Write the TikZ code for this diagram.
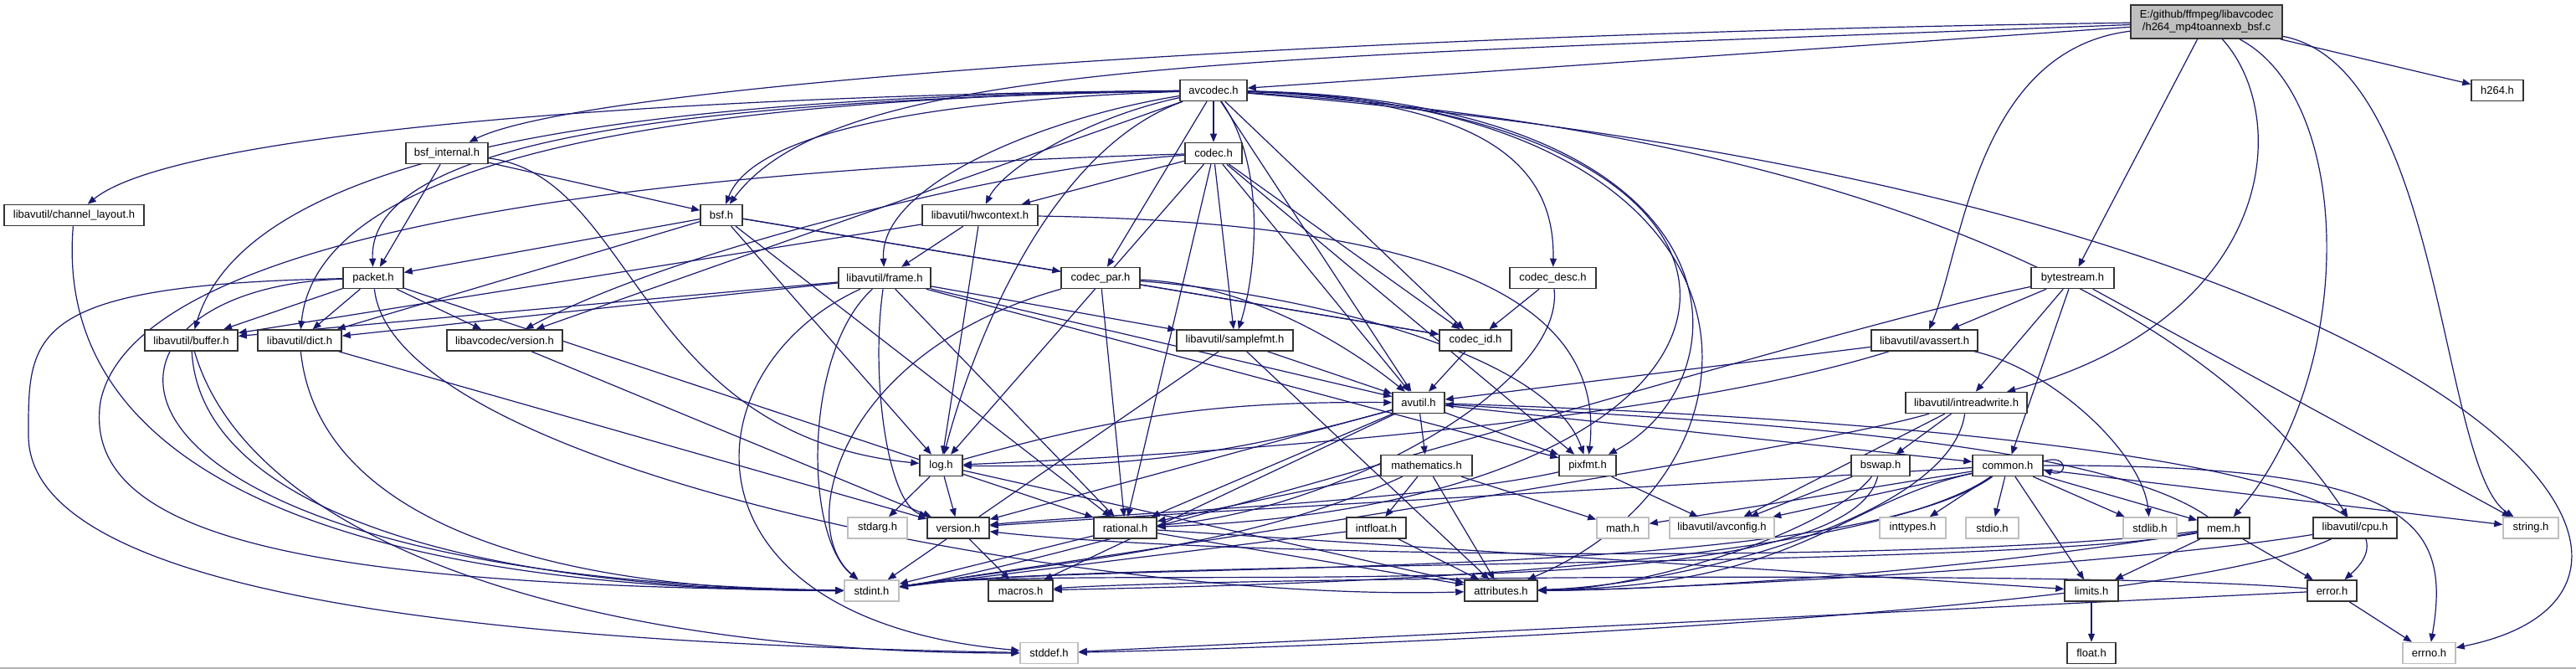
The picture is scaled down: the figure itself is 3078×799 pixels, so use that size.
\documentclass[tikz,border=0pt]{standalone}
\usepackage{fontspec}
\setmainfont{Liberation Sans}
\usetikzlibrary{arrows.meta, backgrounds}
\definecolor{navy}{RGB}{25,25,112}

\begin{document}
\begin{tikzpicture}[x=1pt, y=-1pt, >={Triangle[length=10pt, width=8pt]},
		hdr/.style={rectangle, draw=black!80, fill=white, line width=1.5pt, minimum height=25pt, inner sep=0pt, font=\fontsize{13}{15}\selectfont},
		sys/.style={hdr, draw=black!25},
		src/.style={hdr, fill=black!25, minimum height=40pt, align=center},
		dep/.style={draw=navy, line width=1.2pt}]

	\useasboundingbox (0,0) rectangle (3078,799);

	\node[src, minimum width=181pt] (main) at (2636.5,26) {E:/github/ffmpeg/libavcodec\\/h264\_mp4toannexb\_bsf.c};
	\node[hdr, minimum width=80pt] (avcodec) at (1450,108) {avcodec.h};
	\node[hdr, minimum width=62pt] (h264) at (2984,108) {h264.h};
	\node[hdr, minimum width=98pt] (bsfint) at (534,183) {bsf\_internal.h};
	\node[hdr, minimum width=68pt] (codec) at (1450,183) {codec.h};
	\node[hdr, minimum width=167pt] (chlayout) at (88.5,257) {libavutil/channel\_layout.h};
	\node[hdr, minimum width=50pt] (bsf) at (862,257) {bsf.h};
	\node[hdr, minimum width=138pt] (hwcontext) at (1171,257) {libavutil/hwcontext.h};
	\node[hdr, minimum width=72pt] (packet) at (446,332) {packet.h};
	\node[hdr, minimum width=110pt] (frame) at (1057,332) {libavutil/frame.h};
	\node[hdr, minimum width=94pt] (codecpar) at (1315,332) {codec\_par.h};
	\node[hdr, minimum width=103pt] (codecdesc) at (1855.5,332) {codec\_desc.h};
	\node[hdr, minimum width=99pt] (bytestream) at (2476.5,332) {bytestream.h};
	\node[hdr, minimum width=111pt] (buffer) at (228.5,406.5) {libavutil/buffer.h};
	\node[hdr, minimum width=100pt] (dict) at (358,406.5) {libavutil/dict.h};
	\node[hdr, minimum width=138pt] (lcversion) at (603,406.5) {libavcodec/version.h};
	\node[hdr, minimum width=139pt] (samplefmt) at (1475.5,406.5) {libavutil/samplefmt.h};
	\node[hdr, minimum width=86pt] (codecid) at (1763,406.5) {codec\_id.h};
	\node[hdr, minimum width=127pt] (avassert) at (2299.5,406.5) {libavutil/avassert.h};
	\node[hdr, minimum width=62pt] (avutil) at (1695,481) {avutil.h};
	\node[hdr, minimum width=145pt] (intreadwrite) at (2349.5,481) {libavutil/intreadwrite.h};
	\node[hdr, minimum width=51pt] (log) at (1124.5,556) {log.h};
	\node[hdr, minimum width=109pt] (mathematics) at (1704.5,556) {mathematics.h};
	\node[hdr, minimum width=68pt] (pixfmt) at (1897,556) {pixfmt.h};
	\node[hdr, minimum width=70pt] (bswap) at (2247,556) {bswap.h};
	\node[hdr, minimum width=84pt] (common) at (2399,556) {common.h};
	\node[sys, minimum width=71pt] (stdarg) at (1048.5,630.5) {stdarg.h};
	\node[hdr, minimum width=74pt] (luversion) at (1145,630.5) {version.h};
	\node[hdr, minimum width=75pt] (rational) at (1344.5,630.5) {rational.h};
	\node[hdr, minimum width=71pt] (intfloat) at (1644.5,630.5) {intfloat.h};
	\node[sys, minimum width=62pt] (math) at (1939,630.5) {math.h};
	\node[sys, minimum width=125pt] (avconfig) at (2057.5,630.5) {libavutil/avconfig.h};
	\node[sys, minimum width=79pt] (inttypes) at (2285.5,630.5) {inttypes.h};
	\node[sys, minimum width=63pt] (stdio) at (2380.5,630.5) {stdio.h};
	\node[sys, minimum width=64pt] (stdlib) at (2569,630.5) {stdlib.h};
	\node[hdr, minimum width=62pt] (mem) at (2657,630.5) {mem.h};
	\node[hdr, minimum width=100pt] (cpu) at (2814,630.5) {libavutil/cpu.h};
	\node[sys, minimum width=66pt] (string) at (3024,630.5) {string.h};
	\node[sys, minimum width=65pt] (stdint) at (1041.5,705.5) {stdint.h};
	\node[hdr, minimum width=77pt] (macros) at (1219.5,705.5) {macros.h};
	\node[hdr, minimum width=87pt] (attributes) at (1793.5,705.5) {attributes.h};
	\node[hdr, minimum width=64pt] (limits) at (2499,705.5) {limits.h};
	\node[hdr, minimum width=59pt] (error) at (2786.5,705.5) {error.h};
	\node[sys, minimum width=69pt] (stddef) at (1253.5,780) {stddef.h};
	\node[hdr, minimum width=58pt] (float) at (2499,780) {float.h};
	\node[sys, minimum width=63pt] (errno) at (2902.5,780) {errno.h};

	\draw[black!30, line width=1.5pt] (0,798) -- (3078,798);

	\begin{scope}[on background layer]
		\fill[white] (0,0) rectangle (3078,799);

		\draw[->, dep] (main) -- (avcodec);
		\draw[->, dep] (main) .. controls (1600,40) and (700,100) .. (bsfint);
		\draw[->, dep] (main) .. controls (1500,70) and (1000,70) .. (bsf);
		\draw[->, dep] (main) -- (bytestream);
		\draw[->, dep] (main) -- (h264);
		\draw[->, dep] (main) .. controls (2360,60) and (2345,300) .. (avassert);
		\draw[->, dep] (main) .. controls (2740,140) and (2720,380) .. (intreadwrite);
		\draw[->, dep] (main) .. controls (2815,120) and (2815,450) .. (mem);
		\draw[->, dep] (main) .. controls (2920,80) and (2915,560) .. (string);

		\draw[->, dep] (avcodec) -- (codec);
		\draw[->, dep] (avcodec) .. controls (900,112) and (220,150) .. (chlayout);
		\draw[->, dep] (avcodec) .. controls (800,115) and (300,170) .. (buffer);
		\draw[->, dep] (avcodec) .. controls (800,118) and (380,190) .. (dict);
		\draw[->, dep] (avcodec) .. controls (800,120) and (440,170) .. (packet);
		\draw[->, dep] (avcodec) .. controls (1100,120) and (900,160) .. (bsf);
		\draw[->, dep] (avcodec) .. controls (1300,140) and (1200,200) .. (hwcontext);
		\draw[->, dep] (avcodec) .. controls (1250,140) and (1050,220) .. (frame);
		\draw[->, dep] (avcodec) -- (codecpar);
		\draw[->, dep] (avcodec) .. controls (1515,200) and (1500,330) .. (samplefmt);
		\draw[->, dep] (avcodec) .. controls (1250,180) and (1160,420) .. (log);
		\draw[->, dep] (avcodec) -- (avutil);
		\draw[->, dep] (avcodec) -- (codecid);
		\draw[->, dep] (avcodec) -- (lcversion);
		\draw[->, dep] (avcodec) .. controls (1780,120) and (1858,200) .. (codecdesc);
		\draw[->, dep] (avcodec) .. controls (2090,120) and (2095,450) .. (pixfmt);
		\draw[->, dep] (avcodec) .. controls (2145,125) and (2140,560) .. (attributes);
		\draw[->, dep] (avcodec) .. controls (2200,130) and (2190,600) .. (rational);
		\draw[->, dep] (avcodec) .. controls (2250,160) and (2650,380) .. (cpu);
		\draw[->, dep] (avcodec) .. controls (2950,230) and (3300,700) .. (errno);

		\draw[->, dep] (bsfint) -- (bsf);
		\draw[->, dep] (bsfint) -- (packet);
		\draw[->, dep] (bsfint) .. controls (760,210) and (760,520) .. (log);

		\draw[->, dep] (bsf) -- (packet);
		\draw[->, dep] (bsf) -- (dict);
		\draw[->, dep] (bsf) -- (log);
		\draw[->, dep] (bsf) -- (rational);
		\draw[->, dep] (bsf) -- (codecpar);
		\draw[->, dep] (bsf) -- (codecid);

		\draw[->, dep] (codec) .. controls (500,210) and (150,330) .. (120,480) .. controls (95,650) and (400,700) .. (stdint);
		\draw[->, dep] (codec) -- (hwcontext);
		\draw[->, dep] (codec) -- (log);
		\draw[->, dep] (codec) -- (rational);
		\draw[->, dep] (codec) -- (samplefmt);
		\draw[->, dep] (codec) -- (avutil);
		\draw[->, dep] (codec) -- (pixfmt);
		\draw[->, dep] (codec) -- (codecid);
		\draw[->, dep] (codec) .. controls (1200,200) and (800,300) .. (lcversion);

		\draw[->, dep] (hwcontext) -- (buffer);
		\draw[->, dep] (hwcontext) -- (frame);
		\draw[->, dep] (hwcontext) -- (log);
		\draw[->, dep] (hwcontext) .. controls (1700,265) and (1920,350) .. (pixfmt);

		\draw[->, dep] (packet) -- (buffer);
		\draw[->, dep] (packet) -- (dict);
		\draw[->, dep] (packet) -- (lcversion);
		\draw[->, dep] (packet) -- (rational);
		\draw[->, dep] (packet) .. controls (60,345) and (60,690) .. (stdint);
		\draw[->, dep] (packet) .. controls (30,340) and (34,400) .. (34,520) .. controls (34,730) and (700,770) .. (stddef);
		\draw[->, dep] (packet) .. controls (470,560) and (1300,720) .. (attributes);

		\draw[->, dep] (frame) -- (buffer);
		\draw[->, dep] (frame) -- (dict);
		\draw[->, dep] (frame) -- (samplefmt);
		\draw[->, dep] (frame) -- (avutil);
		\draw[->, dep] (frame) -- (pixfmt);
		\draw[->, dep] (frame) -- (rational);
		\draw[->, dep] (frame) .. controls (1040,450) and (1060,600) .. (luversion);
		\draw[->, dep] (frame) .. controls (960,420) and (960,640) .. (stdint);
		\draw[->, dep] (frame) .. controls (820,440) and (800,740) .. (stddef);

		\draw[->, dep] (codecpar) .. controls (1500,340) and (1620,420) .. (avutil);
		\draw[->, dep] (codecpar) -- (rational);
		\draw[->, dep] (codecpar) .. controls (1550,350) and (1850,420) .. (pixfmt);
		\draw[->, dep] (codecpar) -- (codecid);
		\draw[->, dep] (codecpar) .. controls (1000,420) and (950,630) .. (stdint);

		\draw[->, dep] (codecdesc) -- (codecid);
		\draw[->, dep] (codecdesc) .. controls (1870,460) and (1600,610) .. (rational);
		\draw[->, dep] (codecid) -- (avutil);
		\draw[->, dep] (samplefmt) -- (avutil);
		\draw[->, dep] (samplefmt) -- (attributes);
		\draw[->, dep] (samplefmt) -- (stdint);

		\draw[->, dep] (bytestream) -- (avassert);
		\draw[->, dep] (bytestream) -- (intreadwrite);
		\draw[->, dep] (bytestream) -- (common);
		\draw[->, dep] (bytestream) -- (string);
		\draw[->, dep] (bytestream) .. controls (2150,400) and (1300,668) .. (stdint);

		\draw[->, dep] (chlayout) .. controls (60,600) and (500,705) .. (stdint);
		\draw[->, dep] (buffer) .. controls (240,620) and (600,705) .. (stdint);
		\draw[->, dep] (buffer) .. controls (300,650) and (700,780) .. (stddef);
		\draw[->, dep] (dict) .. controls (380,620) and (650,705) .. (stdint);
		\draw[->, dep] (dict) -- (luversion);
		\draw[->, dep] (lcversion) -- (luversion);

		\draw[->, dep] (avassert) .. controls (2450,440) and (2560,540) .. (stdlib);
		\draw[->, dep] (avassert) -- (avutil);
		\draw[->, dep] (avassert) .. controls (2000,500) and (1500,540) .. (log);

		\draw[->, dep] (avutil) -- (common);
		\draw[->, dep] (avutil) -- (mathematics);
		\draw[->, dep] (avutil) to[bend left=8] (log);
		\draw[->, dep] (avutil) -- (pixfmt);
		\draw[->, dep] (avutil) -- (rational);
		\draw[->, dep] (avutil) -- (luversion);
		\draw[->, dep] (avutil) -- (macros);
		\draw[->, dep] (avutil) .. controls (2300,500) and (2950,560) .. (error);

		\draw[->, dep] (intreadwrite) -- (bswap);
		\draw[->, dep] (intreadwrite) -- (avconfig);
		\draw[->, dep] (intreadwrite) .. controls (2330,620) and (2000,700) .. (attributes);
		\draw[->, dep] (intreadwrite) .. controls (2150,540) and (1300,668) .. (stdint);
		\draw[->, dep] (bswap) -- (avconfig);
		\draw[->, dep] (bswap) .. controls (2180,640) and (1950,705) .. (attributes);
		\draw[->, dep] (bswap) .. controls (2200,740) and (1300,668) .. (stdint);

		\draw[->, dep] (log) -- (stdarg);
		\draw[->, dep] (log) -- (luversion);
		\draw[->, dep] (log) to[bend left=8] (avutil);
		\draw[->, dep] (log) -- (attributes);
		\draw[->, dep] (mathematics) -- (intfloat);
		\draw[->, dep] (mathematics) -- (math);
		\draw[->, dep] (mathematics) -- (attributes);
		\draw[->, dep] (mathematics) -- (rational);
		\draw[->, dep] (mathematics) .. controls (1500,650) and (1300,668) .. (stdint);
		\draw[->, dep] (pixfmt) -- (avconfig);
		\draw[->, dep] (pixfmt) .. controls (1700,600) and (1300,615) .. (luversion);

		\draw[->, dep] (common) -- (inttypes);
		\draw[->, dep] (common) -- (stdio);
		\draw[->, dep] (common) -- (stdlib);
		\draw[->, dep] (common) -- (mem);
		\draw[->, dep] (common) -- (limits);
		\draw[->, dep] (common) -- (string);
		\draw[->, dep] (common) -- (math);
		\draw[->, dep] (common) -- (avconfig);
		\draw[->, dep] (common) .. controls (2880,555) and (2930,620) .. (errno);
		\draw[->, dep] (common) .. controls (2200,600) and (2150,700) .. (attributes);
		\draw[->, dep] (common) .. controls (2200,700) and (1300,668) .. (stdint);
		\draw[->, dep] (common) .. controls (2200,690) and (1450,700) .. (macros);
		\draw[->, dep] (common) .. controls (2000,580) and (1450,610) .. (luversion);
		\draw[->, dep] ([yshift=5pt]common.east) .. controls +(30,-10) and +(30,10) .. ([yshift=-5pt]common.east);

		\draw[->, dep] (mem) -- (limits);
		\draw[->, dep] (mem) -- (error);
		\draw[->, dep] (mem) .. controls (2500,520) and (2000,500) .. (avutil);
		\draw[->, dep] (mem) .. controls (2300,690) and (1950,705) .. (attributes);
		\draw[->, dep] (mem) .. controls (2400,680) and (1300,668) .. (stdint);
		\draw[->, dep] (mem) .. controls (2300,675) and (1450,665) .. (luversion);
		\draw[->, dep] (cpu) .. controls (2500,680) and (1950,705) .. (attributes);
		\draw[->, dep] (cpu) .. controls (2600,730) and (1700,770) .. (stddef);
		\draw[->, dep] (error) -- (errno);
		\draw[->, dep] (error) -- (stddef);
		\draw[->, dep] (error) .. controls (2500,680) and (1450,690) .. (macros);
		\draw[->, dep] (rational) -- (stdint);
		\draw[->, dep] (rational) -- (limits);
		\draw[->, dep] (rational) -- (attributes);
		\draw[->, dep] (intfloat) -- (stdint);
		\draw[->, dep] (intfloat) -- (attributes);
		\draw[->, dep] (luversion) -- (macros);
		\draw[->, dep] (limits) -- (float);
	\end{scope}
\end{tikzpicture}
\end{document}
